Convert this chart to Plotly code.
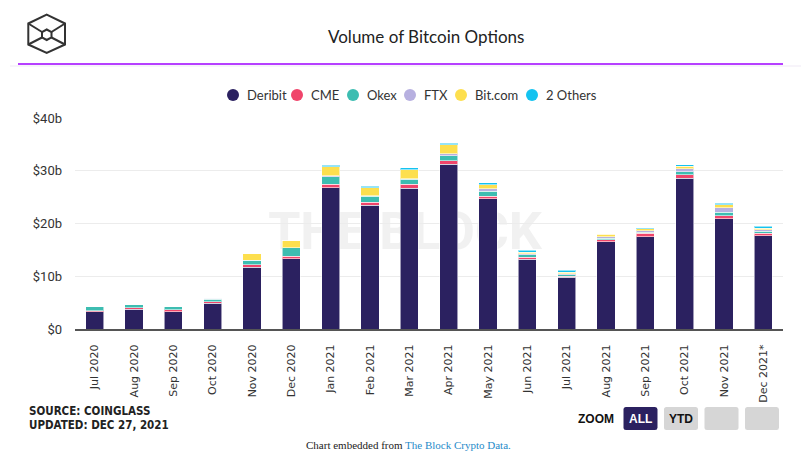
import plotly.graph_objects as go

# ---------------- data ($ billions) ----------------
months = ["Jul 2020", "Aug 2020", "Sep 2020", "Oct 2020", "Nov 2020", "Dec 2020",
          "Jan 2021", "Feb 2021", "Mar 2021", "Apr 2021", "May 2021", "Jun 2021",
          "Jul 2021", "Aug 2021", "Sep 2021", "Oct 2021", "Nov 2021", "Dec 2021*"]
deribit = [3.3, 3.73, 3.3, 4.9, 11.7, 13.3, 26.8, 23.5, 26.7, 31.2, 24.7, 13.25,
           9.8, 16.5, 17.5, 28.6, 20.9, 17.7]
cme = [0.2, 0.3, 0.35, 0.25, 0.45, 0.45, 0.65, 0.5, 0.7, 0.65, 0.5, 0.4,
       0.2, 0.4, 0.65, 0.65, 0.55, 0.45]
okex = [0.7, 0.55, 0.55, 0.45, 0.85, 1.65, 1.45, 1.2, 1.0, 1.0, 0.9, 0.4,
        0.3, 0.3, 0.2, 0.55, 0.65, 0.4]
ftx = [0.03, 0.03, 0.03, 0.25, 0.05, 0.05, 0.2, 0.1, 0.05, 0.4, 0.45, 0.25,
       0.2, 0.25, 0.25, 0.55, 0.9, 0.3]
bitcom = [0, 0, 0, 0, 1.2, 1.25, 1.7, 1.5, 1.7, 1.7, 0.8, 0.25,
          0.25, 0.5, 0.45, 0.5, 0.55, 0.25]
others = [0, 0, 0, 0, 0, 0, 0.2, 0.25, 0.4, 0.25, 0.35, 0.35,
          0.35, 0.05, 0.05, 0.3, 0.3, 0.35]

series_names = ["Deribit", "CME", "Okex", "FTX", "Bit.com", "2 Others"]
series_values = [deribit, cme, okex, ftx, bitcom, others]
series_colors = ["#2b2160", "#f0456b", "#3dbdb1", "#b7b0e0", "#fddf4e", "#14c3f0"]

ytick_vals = [0, 10, 20, 30, 40]
ytick_text = ["$0", "$10b", "$20b", "$30b", "$40b"]

title_text = "Volume of Bitcoin Options"
source_lines = ["SOURCE: COINGLASS", "UPDATED: DEC 27, 2021"]

# ---------------- geometry helpers (pixels -> paper) ----------------
W, H = 801, 475
ML, MR, MT, MB = 75, 18, 118, 146
PW = W - ML - MR
PH = H - MT - MB


def px(x):
    return (x - ML) / PW


def py(y):
    return (H - MB - y) / PH


def path_from(points, close=False):
    s = "M " + " L ".join(f"{px(x):.5f},{py(y):.5f}" for x, y in points)
    return s + (" Z" if close else "")


def rounded_rect(x0, y0, x1, y1, r):
    pts = [
        ("M", x0 + r, y0), ("L", x1 - r, y0), ("Q", x1, y0, x1, y0 + r),
        ("L", x1, y1 - r), ("Q", x1, y1, x1 - r, y1), ("L", x0 + r, y1),
        ("Q", x0, y1, x0, y1 - r), ("L", x0, y0 + r), ("Q", x0, y0, x0 + r, y0),
    ]
    out = []
    for p in pts:
        if p[0] == "Q":
            out.append(f"Q {px(p[1]):.5f},{py(p[2]):.5f} {px(p[3]):.5f},{py(p[4]):.5f}")
        else:
            out.append(f"{p[0]} {px(p[1]):.5f},{py(p[2]):.5f}")
    return " ".join(out) + " Z"


# ---------------- figure ----------------
fig = go.Figure()
for name, vals, col in zip(series_names, series_values, series_colors):
    fig.add_trace(go.Bar(
        x=months, y=vals, name=name, marker_color=col,
        marker_line_color="rgba(255,255,255,0.55)", marker_line_width=1,
        showlegend=False,
    ))

shapes = []
annotations = []

# watermark behind bars
shapes.append(dict(
    type="rect", xref="paper", yref="paper", layer="below",
    x0=px(250), x1=px(560), y0=py(250), y1=py(205),
    line=dict(width=0), fillcolor="rgba(0,0,0,0)",
    label=dict(text="<b>THE BLOCK</b>", font=dict(family="Roboto", size=52, color="#f1f1f1"),
               textposition="middle center"),
))

# logo
hexagon = [(46.7, 14.7), (65, 23.5), (65, 44.5), (46.7, 53), (28.3, 44.5), (28.3, 23.5)]
inner = [(46.7, 29.5), (51.5, 32), (51.5, 37.5), (46.7, 40), (42, 37.5), (42, 32)]
logo_lines = [
    [(28.3, 23.5), (42, 32)], [(65, 23.5), (51.5, 32)],
    [(28.3, 44.5), (42, 37.5)], [(65, 44.5), (51.5, 37.5)],
]
for pts, closed in [(hexagon, True), (inner, True)] + [(l, False) for l in logo_lines]:
    shapes.append(dict(type="path", xref="paper", yref="paper", path=path_from(pts, closed),
                       line=dict(color="#333333", width=2)))

# header separator lines
shapes.append(dict(type="line", xref="paper", yref="paper", x0=px(10), x1=px(801),
                   y0=py(66), y1=py(66), line=dict(color="#efe9f5", width=1)))
shapes.append(dict(type="line", xref="paper", yref="paper", x0=px(18), x1=px(783),
                   y0=py(64), y1=py(64), line=dict(color="#9e00ff", width=1.5)))

# title
annotations.append(dict(text=title_text, xref="paper", yref="paper", x=px(426), y=py(37),
                        showarrow=False, xanchor="center", yanchor="middle",
                        font=dict(family="Lato", size=17, color="#222222")))

# custom legend
legend_circle_x = [233, 297, 353, 410, 461, 532]
for name, col, cx in zip(series_names, series_colors, legend_circle_x):
    shapes.append(dict(type="circle", xref="paper", yref="paper",
                       x0=px(cx - 6), x1=px(cx + 6), y0=py(95 + 6), y1=py(95 - 6),
                       fillcolor=col, line=dict(width=0)))
    annotations.append(dict(text=name, xref="paper", yref="paper", x=px(cx + 12), y=py(95),
                            showarrow=False, xanchor="left", yanchor="middle",
                            font=dict(family="Lato", size=13, color="#333333")))

# source
for i, line in enumerate(source_lines):
    annotations.append(dict(text=line, xref="paper", yref="paper", x=px(27), y=py(411 + 14 * i),
                            showarrow=False, xanchor="left", yanchor="middle",
                            font=dict(family="DejaVu Sans Condensed",
                                      size=11.5, color="#222222", weight="bold")))

# zoom buttons
annotations.append(dict(text="ZOOM", xref="paper", yref="paper", x=px(616), y=py(418.5),
                        showarrow=False, xanchor="right", yanchor="middle",
                        font=dict(family="Liberation Sans", size=12, color="#111111", weight="bold")))
buttons = [("ALL", 623.5, 657.5, "#2b2160", "#ffffff"),
           ("YTD", 664, 698, "#d6d6d6", "#111111"),
           ("", 704.5, 738.5, "#d6d6d6", "#111111"),
           ("", 745, 779, "#d6d6d6", "#111111")]
for txt, x0, x1, fc, tc in buttons:
    shapes.append(dict(type="path", xref="paper", yref="paper",
                       path=rounded_rect(x0, 407, x1, 430, 2.5),
                       fillcolor=fc, line=dict(width=0)))
    if txt:
        annotations.append(dict(text=txt, xref="paper", yref="paper", x=px((x0 + x1) / 2), y=py(418.5),
                                showarrow=False, xanchor="center", yanchor="middle",
                                font=dict(family="Liberation Sans", size=12, color=tc, weight="bold")))

# embed footer
annotations.append(dict(
    text="Chart embedded from <span style='color:#1f8bc9'>The Block Crypto Data.</span>",
    xref="paper", yref="paper", x=px(408), y=py(445), showarrow=False,
    xanchor="center", yanchor="middle",
    font=dict(family="Liberation Serif", size=11, color="#222222")))

fig.update_layout(
    barmode="stack",
    bargap=0.54,
    width=W, height=H,
    margin=dict(l=ML, r=MR, t=MT, b=MB, pad=0),
    paper_bgcolor="white", plot_bgcolor="white",
    shapes=shapes, annotations=annotations,
    showlegend=False,
    xaxis=dict(type="category", showgrid=False, showline=True, linecolor="#555555", linewidth=2,
               tickangle=-90, ticks="", ticklabelstandoff=9,
               tickfont=dict(family="DejaVu Sans", size=11, color="#333333"), fixedrange=True),
    yaxis=dict(range=[0, 40], tickvals=ytick_vals, ticktext=ytick_text, showgrid=True,
               gridcolor="#ececec", gridwidth=1, zeroline=False, showline=False, ticks="",
               ticklabelstandoff=12,
               tickfont=dict(family="Roboto", size=13, color="#333333"), fixedrange=True),
)

fig.write_html("out.html", config={"displayModeBar": False},
               post_script="document.body.style.margin='0';")
